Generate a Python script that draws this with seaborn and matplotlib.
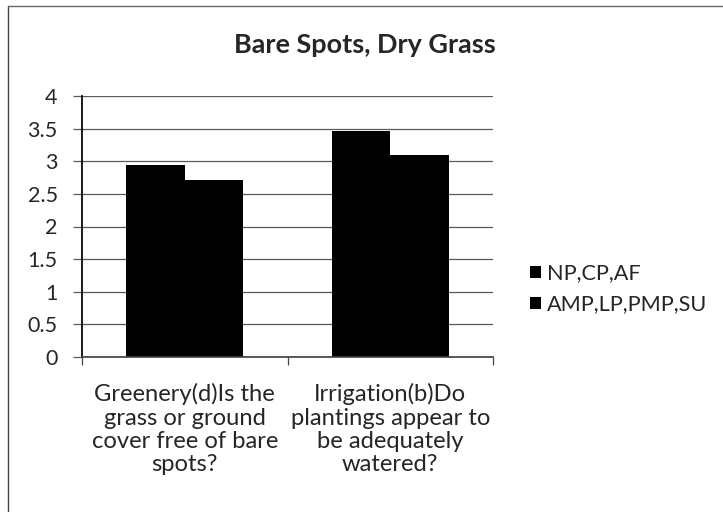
import matplotlib
matplotlib.use("Agg")
import matplotlib.pyplot as plt
from matplotlib.lines import Line2D
import pandas as pd
import seaborn as sns

categories = [
    "Greenery(d)Is the\ngrass or ground\ncover free of bare\nspots?",
    "Irrigation(b)Do\nplantings appear to\nbe adequately\nwatered?",
]
series = ["NP,CP,AF", "AMP,LP,PMP,SU"]
np_cp_af = [2.94, 3.46]
amp_lp_pmp_su = [2.71, 3.10]
y_ticks = [0, 0.5, 1, 1.5, 2, 2.5, 3, 3.5, 4]
y_labels = ["0", "0.5", "1", "1.5", "2", "2.5", "3", "3.5", "4"]

df = pd.DataFrame({
    "Category": categories * 2,
    "Group": [series[0]] * 2 + [series[1]] * 2,
    "Score": np_cp_af + amp_lp_pmp_su,
})

sns.set_theme(style="white")
plt.rcParams["font.family"] = ["Lato", "DejaVu Sans"]

W, H = 723, 512
fig = plt.figure(figsize=(W / 100, H / 100), dpi=100)
renderer = fig.canvas.get_renderer()


def fit(text, px, **kw):
    # font size that makes `text` about `px` pixels wide
    t = fig.text(0, 0, text, fontsize=10, **kw)
    w = t.get_window_extent(renderer=renderer).width
    t.remove()
    return 10 * px / w


fs_title = fit("Bare Spots, Dry Grass", 262, fontweight="bold")
fs_x = fit("Greenery(d)Is the", 182)
fs_y = fit("3.5", 30)
fs_leg = (fit("NP,CP,AF", 88) + fit("AMP,LP,PMP,SU", 168)) / 2

ax = fig.add_axes([82 / W, 1 - 357 / H, (493 - 82) / W, (357 - 96) / H])

sns.barplot(
    data=df, x="Category", y="Score", hue="Group",
    palette=["black", "black"], width=0.57, gap=0,
    linewidth=0, ax=ax, legend=True,
)

ax.set_ylim(0, 4)
ax.set_xlim(-0.5, 1.5)
ax.set_yticks(y_ticks)
ax.set_yticklabels(y_labels, fontsize=fs_y)
ax.yaxis.grid(True, color="#5a5a5a", linewidth=0.9)
ax.set_axisbelow(True)
ax.tick_params(axis="y", left=True, length=6.5, width=0.9, color="#5a5a5a", pad=11)

ax.set_xticks([0, 1])
ax.set_xticklabels(categories, fontsize=fs_x, linespacing=1.12)
ax.set_xticks([-0.5, 0.5, 1.5], minor=True)
ax.tick_params(axis="x", which="major", bottom=False, pad=13)
ax.tick_params(axis="x", which="minor", bottom=True, length=6, width=0.9, color="#444444")

for s in ["top", "right"]:
    ax.spines[s].set_visible(False)
ax.spines["left"].set_color("black")
ax.spines["bottom"].set_color("#444444")
ax.set_xlabel("")
ax.set_ylabel("")

fig.text(365 / W, 1 - 45 / H, "Bare Spots, Dry Grass", ha="center", va="center",
         fontsize=fs_title, fontweight="bold")

handles, labels = ax.get_legend_handles_labels()
ax.legend(handles, labels, loc="center left", bbox_to_anchor=(530 / W, 1 - 289 / H),
          bbox_transform=fig.transFigure, frameon=False, fontsize=fs_leg,
          handlelength=0.5, handleheight=0.5, handletextpad=0.3, labelspacing=0.5,
          borderpad=0, borderaxespad=0)

# scanned chart-area border (left and top edges)
fig.add_artist(Line2D([8 / W, 8 / W], [0, 1 - 6 / H], transform=fig.transFigure,
                      color="#444444", linewidth=1))
fig.add_artist(Line2D([8 / W, 1], [1 - 6 / H, 1 - 6 / H], transform=fig.transFigure,
                      color="#666666", linewidth=1))

fig.savefig("out.png", dpi=100, facecolor="white")
